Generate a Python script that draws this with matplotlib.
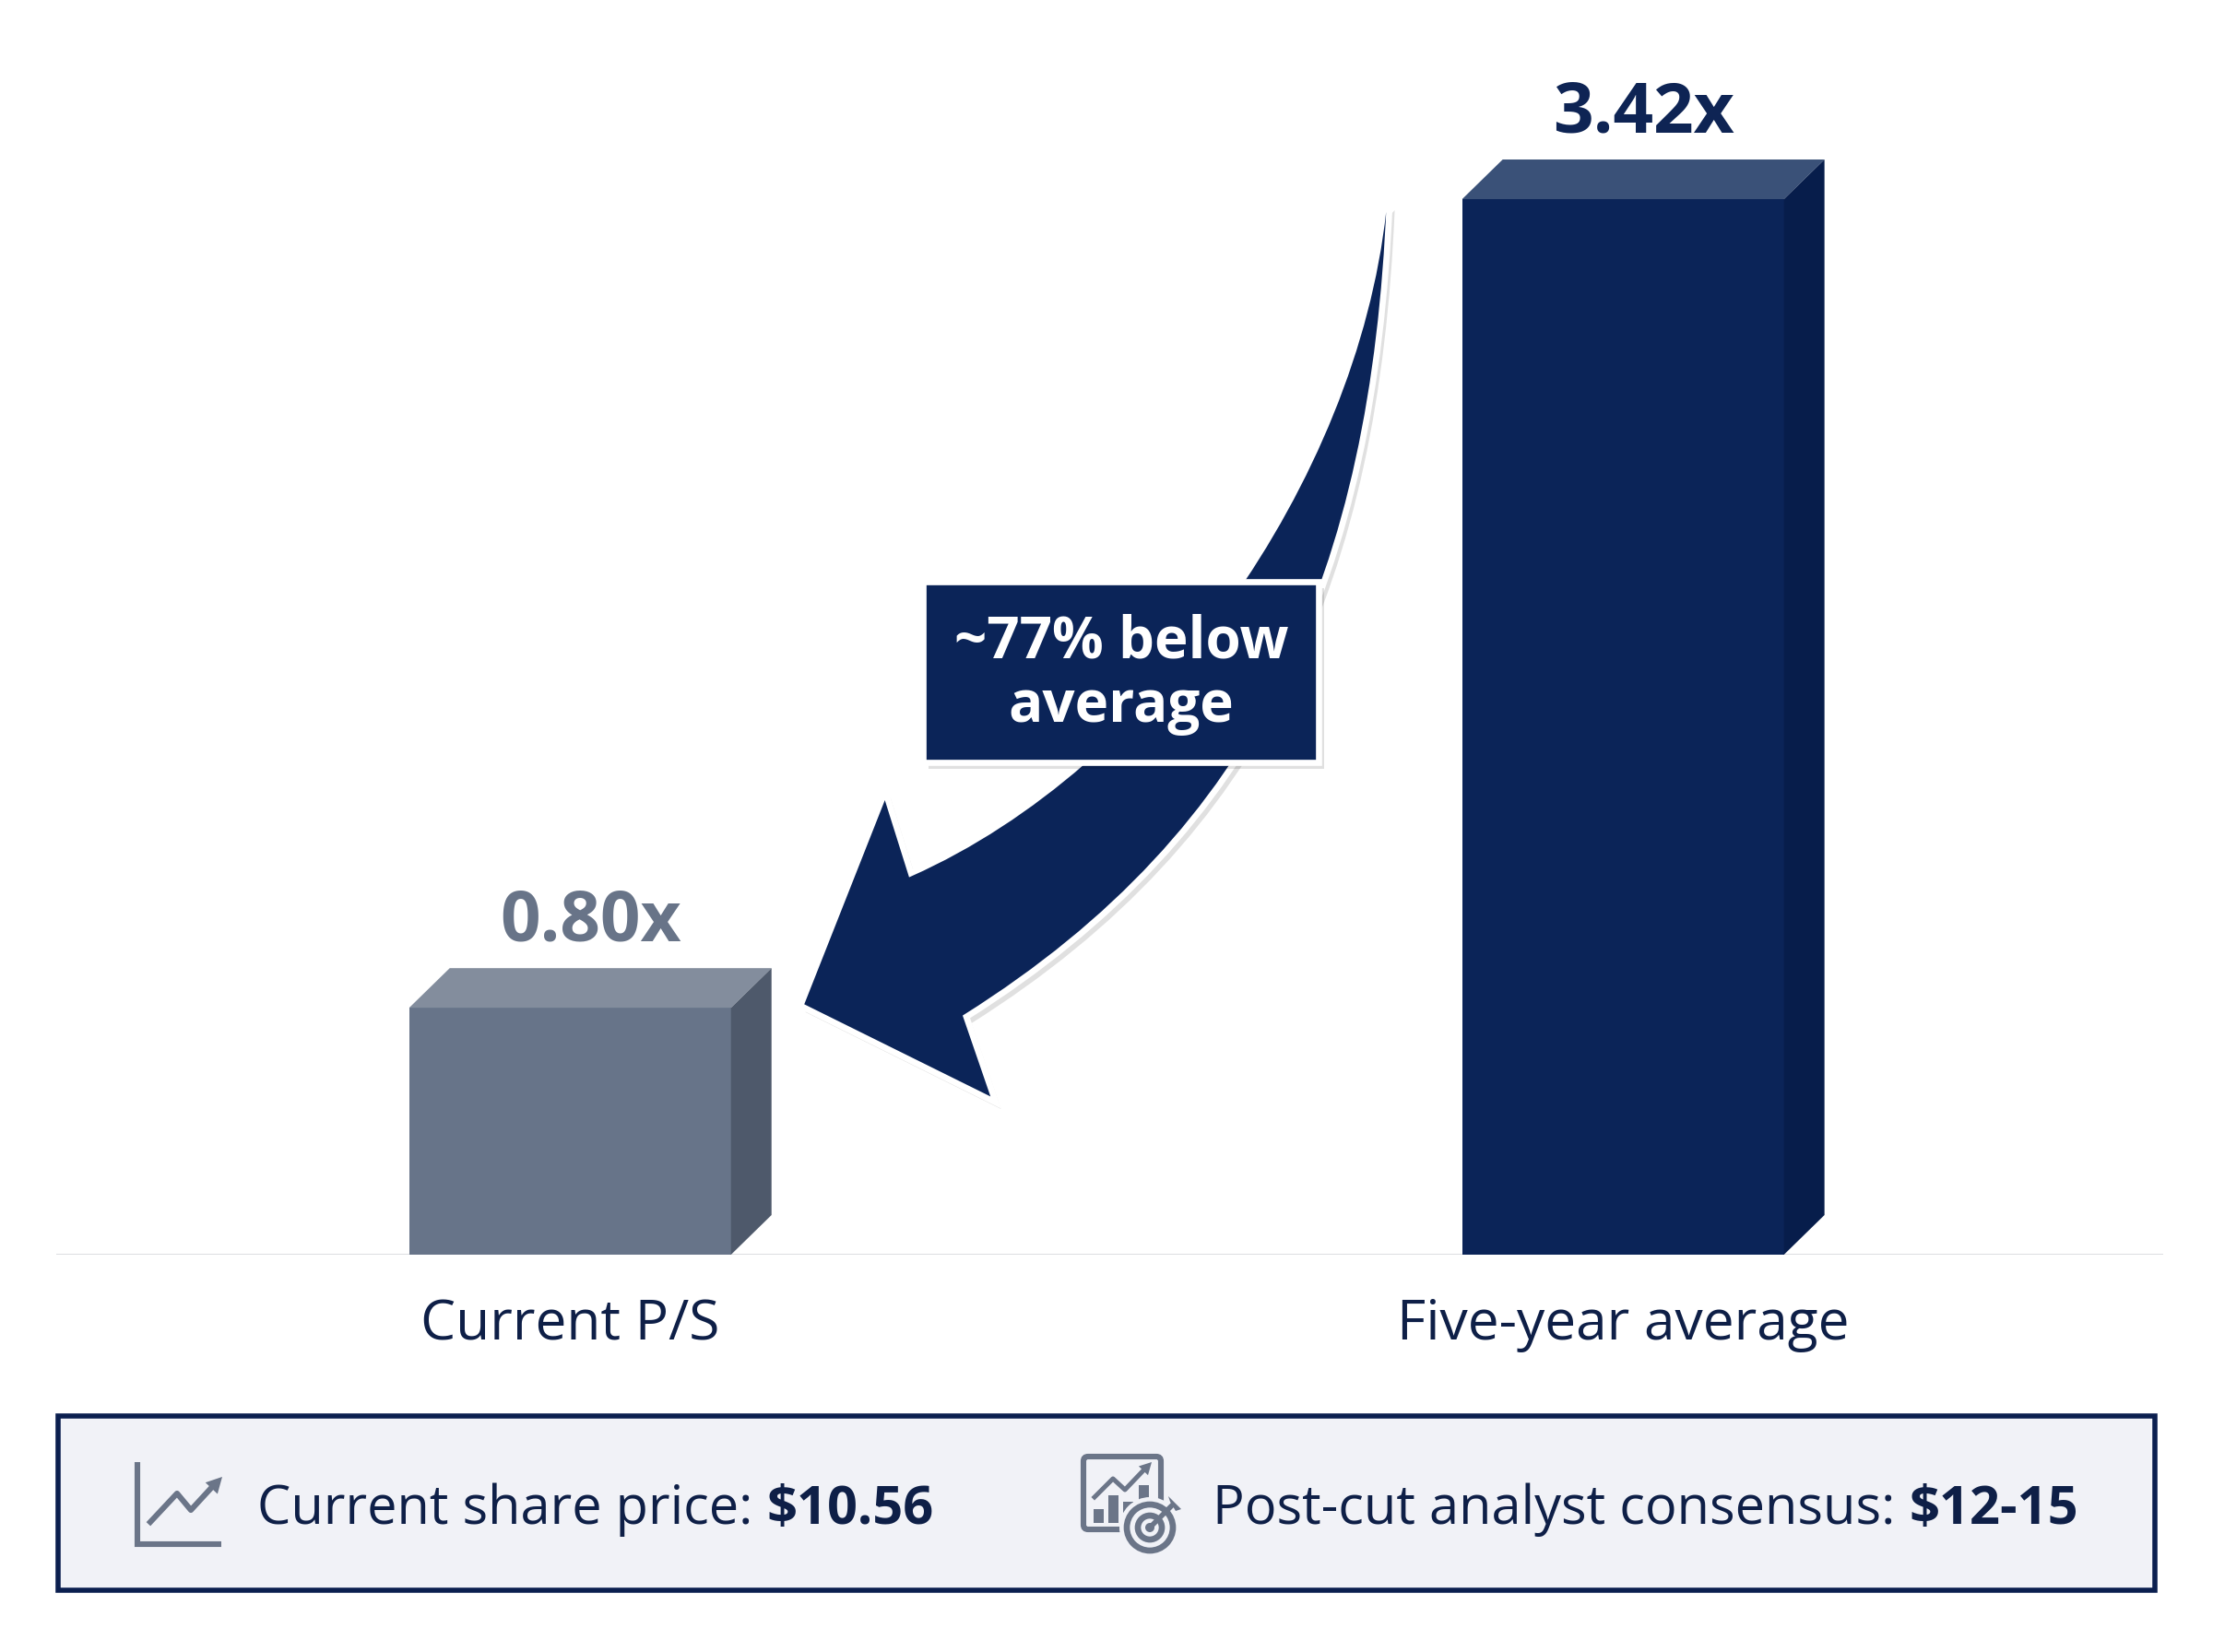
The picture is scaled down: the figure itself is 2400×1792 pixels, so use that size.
import numpy as np
import matplotlib.pyplot as plt
import matplotlib.patheffects as pe
from matplotlib.patches import Polygon, Rectangle, PathPatch, Circle, FancyBboxPatch
from matplotlib.path import Path

plt.rcParams['font.family'] = ['Open Sans', 'DejaVu Sans']

# data
categories = ['Current P/S', 'Five-year average']
ps_values = [0.80, 3.42]
value_labels = ['0.80x', '3.42x']
callout_lines = ['~77% below', 'average']
share_price_runs = [('Current share price: ', 'normal'), ('$10.56', 'bold')]
consensus_runs = [('Post-cut analyst consensus: ', 'normal'), ('$12-15', 'bold')]

# styles
NAVY = '#0b2458'
TEXT_NAVY = '#0e1f47'
GRAY_ICON = '#6b7588'
front_colors = ['#677489', '#0b2458']
top_colors = ['#838d9d', '#3a5178']
side_colors = ['#4e596b', '#071d4b']
label_colors = ['#687488', '#0e2454']

W, H, DPI = 2400, 1792, 200
fig = plt.figure(figsize=(W / DPI, H / DPI), dpi=DPI)
fig.patch.set_facecolor('white')

# main bar axis (pixel layout)
ax = fig.add_axes([61 / W, 1 - 1361 / H, (2346 - 61) / W, (1361 - 60) / H])
ax.set_xlim(-0.488, 1.513)
ax.set_ylim(0, 3.886)
ax.axis('off')

bar_w = 0.3056
dx, dy = 0.0385, 0.1284

ax.axhline(0, color='#d8dadd', lw=1.0, zorder=1)
for i, v in enumerate(ps_values):
    ax.bar(i, v, width=bar_w, color=front_colors[i], zorder=3)
    l, r = i - bar_w / 2, i + bar_w / 2
    ax.add_patch(Polygon([(l, v), (r, v), (r + dx, v + dy), (l + dx, v + dy)],
                         closed=True, fc=top_colors[i], ec='none', zorder=3))
    ax.add_patch(Polygon([(r, 0), (r, v), (r + dx, v + dy), (r + dx, dy)],
                         closed=True, fc=side_colors[i], ec='none', zorder=3))
    ax.annotate(value_labels[i], (i + dx / 2, v + dy), xytext=(0, 10.8),
                textcoords='offset points', ha='center', va='baseline',
                fontsize=27.5, fontweight='bold', color=label_colors[i])
    ax.annotate(categories[i], (i, 0), xytext=(0, -27.5), textcoords='offset points',
                ha='center', va='center', fontsize=21.8, color=TEXT_NAVY)

# overlay axis in pixel coordinates for the callout, arrow and footer
ov = fig.add_axes([0, 0, 1, 1], zorder=5)
ov.set_xlim(0, W)
ov.set_ylim(H, 0)
ov.axis('off')
ov.patch.set_alpha(0)

shadow = [pe.SimplePatchShadow(offset=(2, -2.5), shadow_rgbFace='black', alpha=0.12), pe.Normal()]

# curved arrow
verts = [(1507, 221),
         (1490, 620), (1370, 900), (1048, 1103),
         (1080, 1196), (868, 1091), (960, 858), (988, 947),
         (1250, 830), (1468, 520), (1500, 229),
         (1507, 221)]
codes = [Path.MOVETO,
         Path.CURVE4, Path.CURVE4, Path.CURVE4,
         Path.LINETO, Path.LINETO, Path.LINETO, Path.LINETO,
         Path.CURVE4, Path.CURVE4, Path.CURVE4,
         Path.CLOSEPOLY]
arrow = PathPatch(Path(verts, codes), fc=NAVY, ec='white', lw=2.4, joinstyle='miter', zorder=2)
arrow.set_path_effects(shadow)
ov.add_patch(arrow)

# callout box
box = Rectangle((1001, 631), 429, 196, fc=NAVY, ec='white', lw=2.4, zorder=3)
box.set_path_effects(shadow)
ov.add_patch(box)
ov.text(1216, 697, callout_lines[0], ha='center', va='center', fontsize=22.3,
        fontweight='bold', color='white', zorder=4)
ov.text(1216, 767, callout_lines[1], ha='center', va='center', fontsize=22.3,
        fontweight='bold', color='white', zorder=4)

# footer box
ov.add_patch(Rectangle((63, 1536), 2274, 189, fc='#f1f2f7', ec='#0b1f4f', lw=2.0, zorder=2))

renderer = fig.canvas.get_renderer()


def put_runs(x, y, runs, size=20.8):
    for txt, weight in runs:
        t = ov.text(x, y, txt, ha='left', va='center', fontsize=size,
                    fontweight=weight, color=TEXT_NAVY, zorder=4)
        x += t.get_window_extent(renderer).width


put_runs(279, 1638, share_price_runs)
put_runs(1315, 1638, consensus_runs)

# icon 1: trend line chart
lw_icon = 2.2
ov.plot([149, 149, 240], [1586, 1675, 1675], color=GRAY_ICON, lw=lw_icon,
        solid_capstyle='butt', solid_joinstyle='miter', zorder=4)
zig = np.array([(163, 1651), (192, 1620), (207, 1638), (230, 1613)])
ov.plot(zig[:, 0], zig[:, 1], color=GRAY_ICON, lw=lw_icon, zorder=4)
tip = np.array([241, 1602])
d = tip - zig[-2]
d = d / np.hypot(*d)
p = np.array([-d[1], d[0]])
base = tip - 17 * d
ov.add_patch(Polygon([tip, base + 9 * p, base - 9 * p], closed=True, fc=GRAY_ICON, ec='none', zorder=4))

# icon 2: report with target
ov.add_patch(FancyBboxPatch((1175, 1580), 84, 79, boxstyle='round,pad=0,rounding_size=5',
                            fc='none', ec=GRAY_ICON, lw=lw_icon, zorder=4))
for bx, btop in [(1186, 1637), (1202, 1622), (1218, 1629), (1235, 1611)]:
    ov.add_patch(Rectangle((bx, btop), 11, 1652 - btop, fc=GRAY_ICON, ec='none', zorder=4))
zig2 = np.array([(1187, 1624), (1207, 1604), (1220, 1616), (1241, 1594)])
ov.plot(zig2[:, 0], zig2[:, 1], color=GRAY_ICON, lw=1.8, zorder=4)
tip2 = np.array([1249, 1586])
d2 = tip2 - zig2[-2]
d2 = d2 / np.hypot(*d2)
p2 = np.array([-d2[1], d2[0]])
base2 = tip2 - 13 * d2
ov.add_patch(Polygon([tip2, base2 + 7 * p2, base2 - 7 * p2], closed=True, fc=GRAY_ICON, ec='none', zorder=4))
cx, cy = 1247, 1657
ov.add_patch(Circle((cx, cy), 33, fc='#f1f2f7', ec='none', zorder=5))
ov.add_patch(Circle((cx, cy), 25, fc='none', ec=GRAY_ICON, lw=2.4, zorder=6))
ov.add_patch(Circle((cx, cy), 13, fc='none', ec=GRAY_ICON, lw=2.4, zorder=6))
ov.add_patch(Circle((cx, cy), 5, fc=GRAY_ICON, ec='none', zorder=6))
ov.plot([cx, cx + 24], [cy, cy - 24], color=GRAY_ICON, lw=2.0, zorder=7)
ov.add_patch(Polygon([(cx + 20, cy - 34), (cx + 34, cy - 20), (cx + 28, cy - 18), (cx + 22, cy - 28)],
                     closed=True, fc=GRAY_ICON, ec='none', zorder=7))

fig.savefig('out.png', dpi=DPI)
